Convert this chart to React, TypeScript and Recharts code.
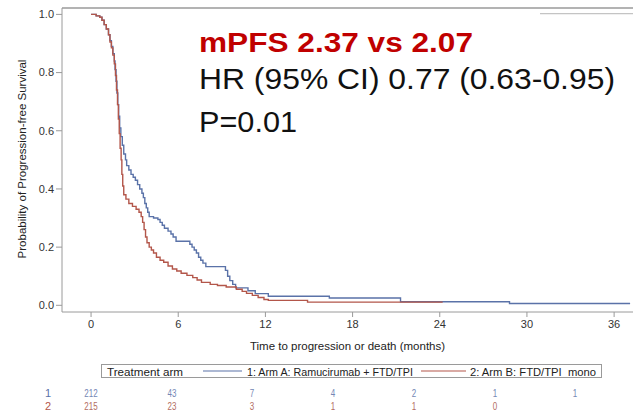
import { LineChart, Line, XAxis, YAxis, ReferenceLine } from "recharts";

// Kaplan-Meier steps, months / survival probability
const ARM_A_TIME = [
  0, 0.35, 0.6, 0.75, 0.9, 1.05, 1.2, 1.3, 1.4, 1.5, 1.6, 1.65, 1.72, 1.78, 1.84, 1.9, 1.97, 2.05, 2.15, 2.25,
  2.37, 2.45, 2.6, 2.75, 2.9, 3.05, 3.2, 3.35, 3.5, 3.6, 3.7, 3.8, 3.9, 4.0, 4.3, 4.6, 4.75, 4.9, 5.05, 5.3,
  5.5, 5.65, 5.85, 6.8, 6.95, 7.1, 7.25, 7.4, 7.55, 7.7, 7.9, 9.25, 9.4, 9.55, 9.75, 9.95, 10.8, 11.3, 12.2,
  16.4, 21.3, 28.8, 37.1,
];
const ARM_A_PFS = [
  1.0, 0.995, 0.99, 0.98, 0.965, 0.95, 0.93, 0.91, 0.89, 0.865, 0.84, 0.81, 0.77, 0.73, 0.69, 0.65, 0.61, 0.58, 0.55, 0.52,
  0.5, 0.48, 0.465, 0.45, 0.44, 0.43, 0.415, 0.4, 0.385, 0.37, 0.35, 0.335, 0.32, 0.305, 0.3, 0.295, 0.285, 0.275, 0.265, 0.255,
  0.245, 0.235, 0.22, 0.21, 0.2, 0.19, 0.18, 0.165, 0.155, 0.145, 0.133, 0.12, 0.1, 0.085, 0.072, 0.06, 0.05, 0.04, 0.031,
  0.025, 0.012, 0.006, 0.006,
];

const ARM_B_TIME = [
  0, 0.35, 0.6, 0.75, 0.9, 1.05, 1.2, 1.3, 1.4, 1.5, 1.6, 1.68, 1.75, 1.82, 1.88, 1.94, 2.0, 2.07, 2.12, 2.18,
  2.25, 2.4, 2.6, 2.85, 3.1, 3.3, 3.45, 3.55, 3.65, 3.75, 3.85, 4.0, 4.15, 4.3, 4.5, 4.75, 5.0, 5.3, 5.6, 5.9,
  6.2, 6.6, 7.0, 7.3, 7.6, 8.2, 8.7, 9.3, 10.0, 10.4, 10.7, 11.1, 11.5, 11.9, 12.2, 14.9, 24.2,
];
const ARM_B_PFS = [
  1.0, 0.995, 0.99, 0.98, 0.965, 0.95, 0.93, 0.905, 0.885, 0.86, 0.83, 0.79, 0.74, 0.69, 0.64, 0.59, 0.54, 0.5, 0.45, 0.41,
  0.38, 0.365, 0.35, 0.34, 0.33, 0.32, 0.305, 0.285, 0.26, 0.235, 0.215, 0.2, 0.19, 0.18, 0.165, 0.155, 0.148, 0.135, 0.125, 0.118,
  0.11, 0.103, 0.095, 0.087, 0.079, 0.072, 0.068, 0.063, 0.055, 0.048, 0.041, 0.034, 0.027, 0.02, 0.017, 0.011, 0.011,
];

const X_TICKS = [0, 6, 12, 18, 24, 30, 36];
const Y_TICKS = [0, 0.2, 0.4, 0.6, 0.8, 1.0];

const RISK_A = [212, 43, 7, 4, 2, 1, 1];
const RISK_B = [215, 23, 3, 1, 1, 0];

const ARM_NAMES = ["1: Arm A: Ramucirumab + FTD/TPI", "2: Arm B: FTD/TPI  mono"];
const STATS = ["mPFS 2.37 vs 2.07", "HR (95% CI) 0.77 (0.63-0.95)", "P=0.01"];

const BLUE = "#5a72a8";
const RED = "#b3564a";
const AXIS = "#9a9a9a";
const FONT = "'Liberation Sans', Arial, sans-serif";

const Y_DOMAIN: [number, number] = [-0.023, 1.022];
const X_DOMAIN: [number, number] = [-2, 37.3];

const toRows = (time: number[], pfs: number[]) => time.map((t, i) => ({ t, s: pfs[i] }));
const armA = toRows(ARM_A_TIME, ARM_A_PFS);
const armB = toRows(ARM_B_TIME, ARM_B_PFS);

const RiskTable = () => (
  <div style={{ position: "absolute", left: 0, top: 388, width: 633, height: 24, fontFamily: FONT }}>
    {[RISK_A, RISK_B].map((row, r) => (
      <div key={r}>
        <span
          style={{
            position: "absolute", left: 45, top: r * 12.5, fontSize: 11, lineHeight: "11px",
            color: r === 0 ? BLUE : RED,
          }}
        >
          {r + 1}
        </span>
        {row.map((n, i) => (
          <span
            key={i}
            style={{
              position: "absolute", left: 91 + i * 80.7, top: r * 12.5 + 1, transform: "translateX(-50%) scaleX(0.8)",
              fontSize: 10, lineHeight: "10px", color: r === 0 ? "#7487b5" : "#b36d62",
            }}
          >
            {n}
          </span>
        ))}
      </div>
    ))}
  </div>
);

// boxed legend under the x axis title
const ArmLegend = () => (
  <svg width={503} height={16} style={{ position: "absolute", left: 100, top: 363 }}>
    <rect x={1.5} y={1.5} width={500} height={13} fill="#fff" stroke="#9a9a9a" />
    <g fontFamily={FONT} fontSize={11.5} fill="#222">
      <text x={7} y={12.5} textLength={76} lengthAdjust="spacingAndGlyphs">Treatment arm</text>
      <line x1={103} x2={142} y1={8} y2={8} stroke={BLUE} strokeWidth={1.2} />
      <text x={147} y={12.5} textLength={166} lengthAdjust="spacingAndGlyphs">{ARM_NAMES[0]}</text>
      <line x1={321} x2={366} y1={8} y2={8} stroke={RED} strokeWidth={1.2} />
      <text x={370} y={12.5} textLength={126} lengthAdjust="spacingAndGlyphs" style={{ whiteSpace: "pre" }}>
        {ARM_NAMES[1]}
      </text>
    </g>
  </svg>
);

export default function App() {
  return (
    <div style={{ position: "relative", width: 633, height: 412, background: "#fff", overflow: "hidden" }}>
      <style>{"body{margin:0}"}</style>
      <LineChart width={633} height={412} margin={{ top: 8, right: 0, bottom: 60, left: 0 }}>
        <XAxis
          dataKey="t"
          type="number"
          domain={X_DOMAIN}
          ticks={X_TICKS}
          allowDataOverflow
          height={40}
          stroke={AXIS}
          tickSize={5}
          tickMargin={3}
          tick={{ fill: "#333", fontSize: 11, fontFamily: FONT }}
          label={{
            value: "Time to progression or death (months)",
            position: "insideBottom",
            offset: 2,
            style: { fill: "#222", fontSize: 11.5, fontFamily: FONT },
          }}
        />
        <YAxis
          type="number"
          domain={Y_DOMAIN}
          ticks={Y_TICKS}
          allowDataOverflow
          width={62}
          stroke={AXIS}
          tickSize={6}
          tickMargin={2}
          tickFormatter={(v: number) => v.toFixed(1)}
          tick={{ fill: "#333", fontSize: 11, fontFamily: FONT }}
        />
        <ReferenceLine y={Y_DOMAIN[1]} stroke={AXIS} strokeWidth={1.5} ifOverflow="visible" />
        <ReferenceLine
          segment={[{ x: 30.9, y: 1.003 }, { x: 37.3, y: 1.003 }]}
          stroke="#c4c4c4"
          strokeWidth={1.2}
          ifOverflow="visible"
        />
        <Line data={armA} dataKey="s" type="stepAfter" stroke={BLUE} strokeWidth={1.4} dot={false} isAnimationActive={false} />
        <Line data={armB} dataKey="s" type="stepAfter" stroke={RED} strokeWidth={1.4} dot={false} isAnimationActive={false} />
      </LineChart>

      <svg width={633} height={412} style={{ position: "absolute", left: 0, top: 0, pointerEvents: "none" }}>
        <text
          transform="translate(22,159) rotate(-90)"
          textAnchor="middle"
          dominantBaseline="central"
          fontFamily={FONT}
          fontSize={11.5}
          fill="#222"
        >
          Probability of Progression-free Survival
        </text>
        <text x={199} y={52} fontFamily={FONT} fontSize={27} fontWeight="bold" fill="#c00000" textLength={274} lengthAdjust="spacingAndGlyphs">
          {STATS[0]}
        </text>
        <text x={199} y={89} fontFamily={FONT} fontSize={29} fill="#111" textLength={416} lengthAdjust="spacingAndGlyphs">
          {STATS[1]}
        </text>
        <text x={199} y={132} fontFamily={FONT} fontSize={29} fill="#111" textLength={98} lengthAdjust="spacingAndGlyphs">
          {STATS[2]}
        </text>
      </svg>

      <ArmLegend />
      <RiskTable />
    </div>
  );
}
